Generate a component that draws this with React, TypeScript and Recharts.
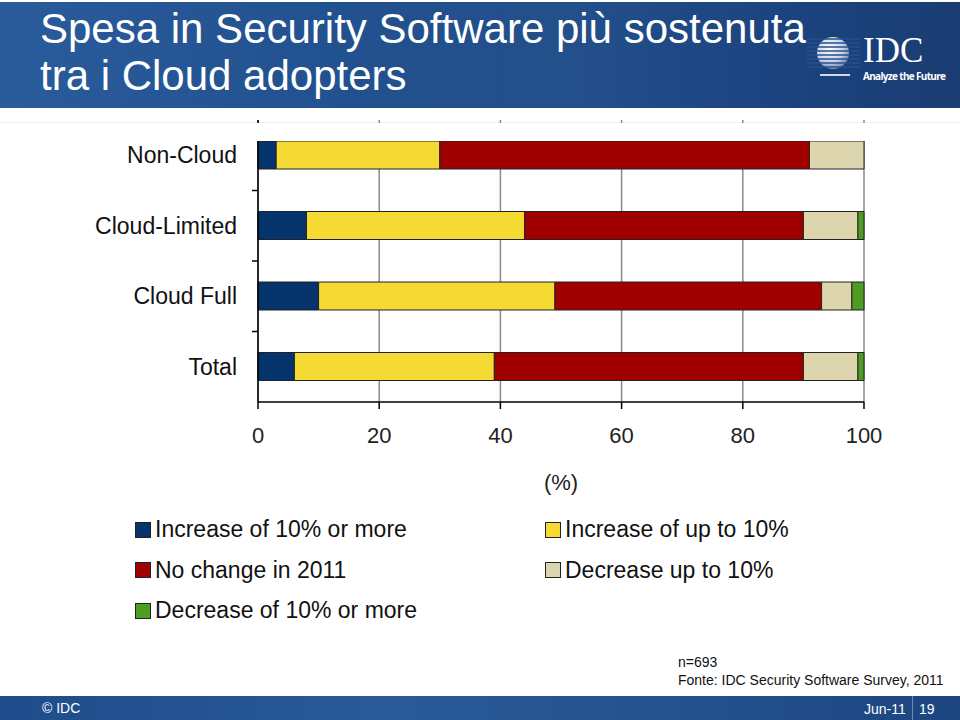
import React from "react";
import { BarChart, Bar, XAxis, YAxis, CartesianGrid } from "recharts";

// categorie e serie (in %)
const categories = ["Non-Cloud", "Cloud-Limited", "Cloud Full", "Total"];
const increase10 = [3, 8, 10, 6];
const increaseUpTo10 = [27, 36, 39, 33];
const noChange = [61, 46, 44, 51];
const decreaseUpTo10 = [9, 9, 5, 9];
const decrease10 = [0, 1, 2, 1];
const xTicks = [0, 20, 40, 60, 80, 100];

const series = [
  { key: "inc10", name: "Increase of 10% or more", color: "#05336b", values: increase10 },
  { key: "incUp", name: "Increase of up to 10%", color: "#f5da33", values: increaseUpTo10 },
  { key: "same", name: "No change in 2011", color: "#a00000", values: noChange },
  { key: "decUp", name: "Decrease up to 10%", color: "#dcd5ad", values: decreaseUpTo10 },
  { key: "dec10", name: "Decrease of 10% or more", color: "#4f9c23", values: decrease10 },
];

const data = categories.map((name, i) => {
  const row: Record<string, string | number> = { name };
  series.forEach((s) => (row[s.key] = s.values[i]));
  return row;
});

// legenda: ordine a due colonne come nell'originale
const legendOrder = ["inc10", "incUp", "same", "decUp", "dec10"];

const FONT = "'Liberation Sans', Arial, sans-serif";
const PLOT_H = 282;

const CatTick = (props: any) => {
  const { x, y, payload, index } = props;
  const half = PLOT_H / categories.length / 2;
  return (
    <g>
      <text x={x} y={y} dy={8} textAnchor="end" fontSize={23} fill="#111" fontFamily={FONT}>
        {payload.value}
      </text>
      {index > 0 && (
        <line x1={x + 15} x2={x + 21} y1={y - half} y2={y - half} stroke="#000" strokeWidth={1.5} />
      )}
    </g>
  );
};

const IdcLogo = () => (
  <svg width={160} height={60} style={{ position: "absolute", left: 800, top: 26 }}>
    <defs>
      <radialGradient id="sph" cx="40%" cy="35%" r="70%">
        <stop offset="0%" stopColor="#ffffff" />
        <stop offset="60%" stopColor="#c9d3e2" />
        <stop offset="100%" stopColor="#6f82a3" />
      </radialGradient>
    </defs>
    <circle cx={33} cy={25} r={16} fill="url(#sph)" />
    {[11, 15, 19, 23, 27, 31, 35, 39].map((yy) => (
      <line key={yy} x1={7} x2={60} y1={yy} y2={yy} stroke="#23508f" strokeWidth={1.4} />
    ))}
    <rect x={20} y={46} width={30} height={2} fill="#cfd8e6" />
    <text x={63} y={34} fontSize={35} fill="#fff" fontFamily="'Liberation Serif', serif">
      IDC
    </text>
    <text x={63} y={52} fontSize={10} fontWeight={700} fill="#fff" fontFamily="'Open Sans', sans-serif" textLength={83}>
      Analyze the Future
    </text>
  </svg>
);

export default function App() {
  return (
    <div
      style={{
        position: "absolute",
        left: 0,
        top: 0,
        width: 960,
        height: 720,
        background: "#fff",
        overflow: "hidden",
        fontFamily: FONT,
      }}
    >
      {/* testata */}
      <div
        style={{
          position: "absolute",
          left: 0,
          top: 2,
          width: 960,
          height: 106,
          background: "linear-gradient(90deg, #2a5b9b 0%, #22518f 35%, #234f8a 60%, #1c4480 80%, #1a3c72 100%)",
        }}
      >
        <div style={{ position: "absolute", left: 40, top: 6, color: "#fff", fontSize: 42, lineHeight: "42px", whiteSpace: "nowrap" }}>
          Spesa in Security Software più sostenuta
        </div>
        <div style={{ position: "absolute", left: 40, top: 53, color: "#fff", fontSize: 42, lineHeight: "42px", whiteSpace: "nowrap" }}>
          tra i Cloud adopters
        </div>
        <IdcLogo />
      </div>
      <div style={{ position: "absolute", left: 0, top: 122, width: 960, height: 1, background: "#f0f0f0" }} />

      <div style={{ position: "absolute", left: 0, top: 0 }}>
        <BarChart
          width={960}
          height={720}
          data={data}
          layout="vertical"
          barSize={28}
          margin={{ top: 120, right: 96, left: 8, bottom: 218 }}
        >
          <CartesianGrid horizontal={false} stroke="#8a8a8a" strokeWidth={1.5} />
          <XAxis
            type="number"
            domain={[0, 100]}
            ticks={xTicks}
            interval={0}
            height={100}
            axisLine={{ stroke: "#000", strokeWidth: 1.5 }}
            tickLine={{ stroke: "#000", strokeWidth: 1.5 }}
            tickSize={7}
            tickMargin={18}
            tick={{ fontSize: 22, fill: "#222", fontFamily: FONT }}
            label={{ value: "(%)", position: "insideBottom", offset: 12, fontSize: 22, fill: "#222", fontFamily: FONT }}
          />
          <YAxis
            type="category"
            dataKey="name"
            width={250}
            axisLine={{ stroke: "#000", strokeWidth: 1.5 }}
            tickLine={false}
            tickMargin={15}
            interval={0}
            tick={<CatTick />}
          />
          {series.map((s) => (
            <Bar
              key={s.key}
              dataKey={s.key}
              name={s.name}
              stackId="a"
              fill={s.color}
              stroke="#222"
              strokeWidth={1}
              isAnimationActive={false}
            />
          ))}
        </BarChart>
      </div>
      {/* nell'originale griglia e asse partono dal bordo della prima barra */}
      <div style={{ position: "absolute", left: 250, top: 123, width: 620, height: 17.5, background: "#fff" }} />

      {/* legenda */}
      {legendOrder.map((k, i) => {
        const s = series.find((d) => d.key === k)!;
        const col = i % 2;
        const row = Math.floor(i / 2);
        return (
          <div
            key={k}
            style={{
              position: "absolute",
              left: col === 0 ? 135 : 545,
              top: 516 + row * 40.5,
              display: "flex",
              alignItems: "center",
              fontSize: 23,
              color: "#111",
              whiteSpace: "nowrap",
            }}
          >
            <span
              style={{
                display: "inline-block",
                width: 14,
                height: 14,
                background: s.color,
                border: "1px solid #222",
                marginRight: 4,
              }}
            />
            {s.name}
          </div>
        );
      })}

      {/* fonte */}
      <div style={{ position: "absolute", left: 678, top: 653, fontSize: 14, color: "#111", lineHeight: "18px" }}>
        n=693
        <br />
        Fonte: IDC Security Software Survey, 2011
      </div>

      {/* piè di pagina */}
      <div
        style={{
          position: "absolute",
          left: 0,
          top: 696,
          width: 960,
          height: 24,
          background: "linear-gradient(90deg, #1f4c8a 0%, #2a5a98 40%, #24528f 70%, #1d4580 100%)",
          color: "#fff",
          fontSize: 14,
        }}
      >
        <span style={{ position: "absolute", left: 42, top: 4 }}>© IDC</span>
        <span style={{ position: "absolute", left: 864, top: 5 }}>Jun-11</span>
        <span style={{ position: "absolute", left: 912, top: 0, width: 1, height: 24, background: "#6d8bb8" }} />
        <span style={{ position: "absolute", left: 919, top: 5 }}>19</span>
      </div>
    </div>
  );
}
